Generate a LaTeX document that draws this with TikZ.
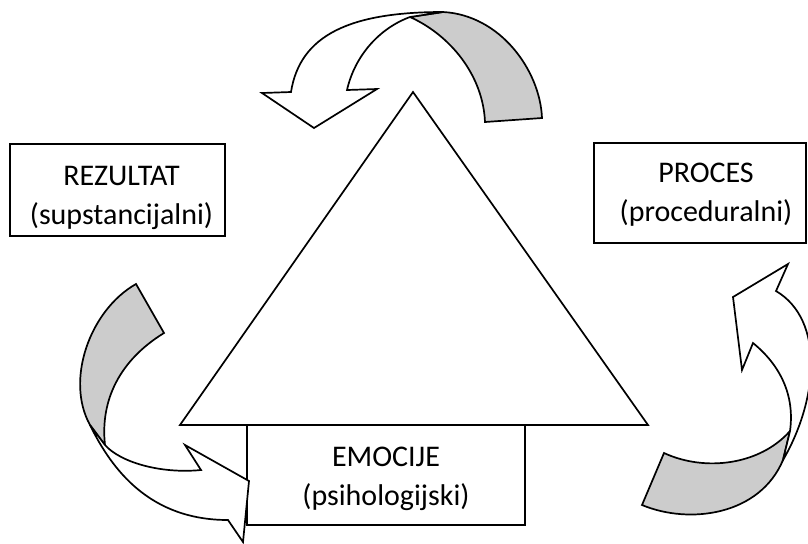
\documentclass[tikz,border=0pt]{standalone}
\usepackage{fontspec}
\setmainfont{Carlito}
\usetikzlibrary{positioning}
\definecolor{myGray}{RGB}{204,204,204}

\begin{document}
\begin{tikzpicture}[x=0.5pt,y=-0.5pt,line width=0.85pt,line join=miter,
  info box/.style={rectangle,draw,fill=white,inner sep=0pt},
  box text/.style={align=center,inner sep=0pt,font=\fontsize{15}{19.5}\selectfont},
  back side/.style={draw,fill=myGray},
  front side/.style={draw,fill=white}]

\useasboundingbox (0,0) rectangle (808,543);
\clip (0,0) rectangle (808,543);

% The triangle
\draw (413,92) -- (648,425) -- (180,425) -- cycle;

% The boxes
\node[info box,minimum width=107.5pt,minimum height=46pt] (Rez) at (117.5,190) {};
\node[box text,below=11pt of Rez.north,xshift=2pt] (RezText) {REZULTAT\\(supstancijalni)};
\node[info box,minimum width=106pt,minimum height=50pt] (Proc) at (700,193) {};
\node[box text,below=10pt of Proc.north,xshift=3pt] (ProcText) {PROCES\\(proceduralni)};
\node[info box,minimum width=139pt,minimum height=50pt] (Emo) at (386,475) {};
\node[box text,below=11pt of Emo.north] (EmoText) {EMOCIJE\\(psihologijski)};

% Top arrow
\draw[back side] (410,17) .. controls (450,35) and (483,75) .. (485,122) -- (542,118)
  .. controls (540,70) and (500,15) .. (443,12) -- cycle;
\draw[front side] (443,12) .. controls (350,12) and (300,35) .. (291,92) -- (262,93)
  -- (314,128) -- (377,89) -- (347,90) .. controls (355,55) and (380,28) .. (410,17) -- cycle;

% Left arrow
\draw[back side] (136,284) -- (164,333) .. controls (120,360) and (100,400) .. (105,445)
  -- (90,425) .. controls (65,380) and (90,310) .. (136,284) -- cycle;
\draw[front side] (90,425) .. controls (112,470) and (150,520) .. (228,520) -- (243,542)
  -- (249,481) -- (185,445) -- (201,470) .. controls (160,474) and (120,462) .. (105,445) -- cycle;

% Right arrow
\draw[back side] (664,453) .. controls (705,472) and (760,465) .. (790,431) -- (783,460)
  .. controls (760,515) and (690,525) .. (642,505) -- cycle;
\draw[front side] (783,460) .. controls (818,400) and (825,320) .. (776,291) -- (788,264)
  -- (733,297) -- (742,370) -- (753,343) .. controls (780,365) and (795,395) .. (790,431) -- cycle;

\end{tikzpicture}
\end{document}
